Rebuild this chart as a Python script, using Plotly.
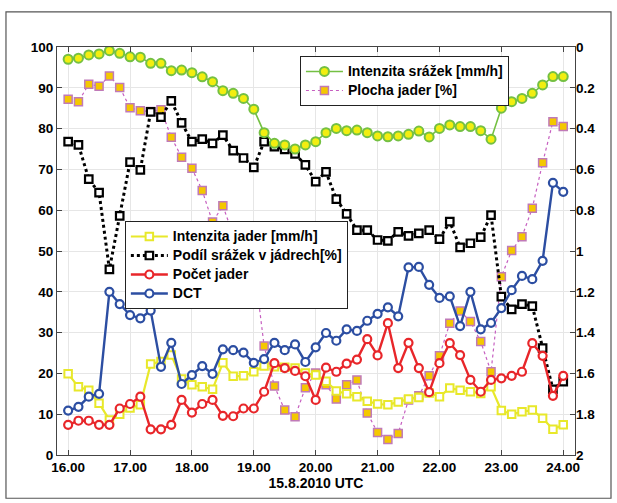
import plotly.graph_objects as go

times = ["16:00","16:10","16:20","16:30","16:40","16:50",
         "17:00","17:10","17:20","17:30","17:40","17:50",
         "18:00","18:10","18:20","18:30","18:40","18:50",
         "19:00","19:10","19:20","19:30","19:40","19:50",
         "20:00","20:10","20:20","20:30","20:40","20:50",
         "21:00","21:10","21:20","21:30","21:40","21:50",
         "22:00","22:10","22:20","22:30","22:40","22:50",
         "23:00","23:10","23:20","23:30","23:40","23:50","24:00"]

# right axis (reversed): Intenzita srážek [mm/h]
intenzita_srazek = [0.060,0.055,0.039,0.034,0.018,0.031,0.048,0.050,0.080,0.080,0.116,0.113,
                    0.126,0.146,0.170,0.214,0.227,0.252,0.305,0.420,0.472,0.480,0.500,0.480,
                    0.464,0.420,0.399,0.410,0.407,0.420,0.436,0.440,0.436,0.428,0.412,0.441,
                    0.399,0.382,0.390,0.390,0.410,0.452,0.300,0.268,0.252,0.227,0.186,0.145,0.145]

plocha_jader = [87.2,86.6,90.9,90.4,92.9,90.1,85.1,84.4,84.2,84.6,77.9,73.0,
                70.3,64.8,57.1,61.1,53.9,52.7,47.3,26.7,16.9,11.0,9.4,16.5,
                20.1,17.2,13.7,17.2,18.4,10.3,5.5,3.8,5.3,13.5,14.5,19.4,
                24.3,32.3,35.3,32.7,27.8,20.4,43.7,50.1,53.5,60.5,71.6,81.7,80.5]

podil_srazek = [76.8,76.0,67.6,64.3,45.5,58.6,71.8,69.9,84.1,82.8,86.8,81.4,
                76.8,77.4,76.4,78.4,74.6,72.8,70.5,76.8,75.6,74.9,73.8,71.1,
                67.0,69.4,62.7,59.1,55.1,55.1,52.7,52.5,54.7,53.7,54.3,55.1,
                52.9,57.2,50.9,51.9,53.4,58.8,38.8,35.7,37.0,36.5,26.2,16.1,18.0]

dct = [10.9,11.8,14.3,15.0,40.0,37.0,34.3,33.5,35.4,21.6,27.5,17.4,
       19.6,21.8,19.9,25.9,25.7,25.1,22.6,23.5,27.5,25.7,27.1,22.8,
       26.4,29.9,28.0,30.8,30.4,32.9,34.6,36.2,34.0,46.0,46.1,41.7,
       38.5,38.9,31.6,40.0,30.8,32.4,36.0,40.4,43.9,43.1,47.6,66.7,64.5]

pocet_jader = [7.4,8.4,8.4,7.4,7.4,11.4,12.5,14.3,6.3,6.3,7.4,13.5,
               10.4,12.5,13.5,9.6,9.5,11.4,11.4,15.5,22.5,21.3,20.6,19.3,
               13.5,21.4,20.4,22.4,23.4,28.4,24.4,32.3,21.3,27.5,21.3,15.4,
               22.5,27.4,24.5,18.4,15.5,18.4,18.8,19.4,20.4,27.4,24.3,14.5,19.4]

intenzita_jader = [19.9,16.7,15.9,12.7,8.6,10.0,11.5,12.3,22.3,22.9,24.5,18.6,
                   17.2,16.7,16.1,22.6,19.3,19.4,20.4,21.8,21.6,21.5,21.3,20.1,
                   19.6,18.1,15.7,15.0,14.3,13.2,12.5,12.3,13.0,13.7,14.1,15.2,
                   14.3,16.4,15.9,15.5,15.1,16.7,10.9,10.0,10.6,11.0,9.0,6.3,7.4]

left_ticks = [0, 10, 20, 30, 40, 50, 60, 70, 80, 90, 100]
right_ticks = [0, 0.2, 0.4, 0.6, 0.8, 1, 1.2, 1.4, 1.6, 1.8, 2]
right_text = ["0", "0.2", "0.4", "0.6", "0.8", "1", "1.2", "1.4", "1.6", "1.8", "2"]
x_ticks = [16, 17, 18, 19, 20, 21, 22, 23, 24]
x_text = ["16.00", "17.00", "18.00", "19.00", "20.00", "21.00", "22.00", "23.00", "24.00"]


def to_hours(t):
    h, m = t.split(":")
    return int(h) + int(m) / 60.0


x = [to_hours(t) for t in times]

FONT = "Liberation Sans, Arial, sans-serif"


def lname(s):
    return '<span style="font-size:14px"><b>%s</b></span>' % s


fig = go.Figure()

fig.add_trace(go.Scatter(
    x=x, y=plocha_jader, name=lname("Plocha jader [%]"), mode="lines+markers",
    line=dict(color="#c65fc0", width=1.2, dash="dot"),
    marker=dict(symbol="square", size=8, color="#f4c800", line=dict(color="#c07ab8", width=1.5)),
    legend="legend", legendrank=2))

fig.add_trace(go.Scatter(
    x=x, y=intenzita_jader, name=lname("Intenzita jader [mm/h]"), mode="lines+markers",
    line=dict(color="#e8e82a", width=2.2),
    marker=dict(symbol="square", size=7.5, color="white", line=dict(color="#e8e82a", width=2)),
    legend="legend2", legendrank=1))

fig.add_trace(go.Scatter(
    x=x, y=podil_srazek, name=lname("Podíl srážek v jádrech[%]"), mode="lines+markers",
    line=dict(color="black", width=3, dash="dot"),
    marker=dict(symbol="square", size=7.5, color="white", line=dict(color="black", width=2.2)),
    legend="legend2", legendrank=2))

fig.add_trace(go.Scatter(
    x=x, y=pocet_jader, name=lname("Počet jader"), mode="lines+markers",
    line=dict(color="#e8262a", width=2.4),
    marker=dict(symbol="circle", size=8, color="white", line=dict(color="#e8262a", width=2.2)),
    legend="legend2", legendrank=3))

fig.add_trace(go.Scatter(
    x=x, y=dct, name=lname("DCT"), mode="lines+markers",
    line=dict(color="#2c4ea2", width=2.4),
    marker=dict(symbol="circle", size=8, color="white", line=dict(color="#2c4ea2", width=2.2)),
    legend="legend2", legendrank=4))

fig.add_trace(go.Scatter(
    x=x, y=intenzita_srazek, name=lname("Intenzita srážek [mm/h]"), mode="lines+markers",
    yaxis="y2",
    line=dict(color="#74c043", width=1.6),
    marker=dict(symbol="circle", size=9, color="#f2ee10", line=dict(color="#74c043", width=2)),
    legend="legend", legendrank=1))

axis_font = dict(family=FONT, size=13.5, color="black")

fig.update_layout(
    width=617, height=503,
    margin=dict(l=57, r=42, t=47, b=48),
    paper_bgcolor="white", plot_bgcolor="white",
    font=dict(family=FONT, size=12, color="black"),
    xaxis=dict(
        range=[15.82, 24.19], tickvals=x_ticks, ticktext=["<b>%s</b>" % t for t in x_text],
        ticks="inside", ticklen=5, tickcolor="#444", showline=True, linecolor="#444", linewidth=1,
        mirror="ticks", showgrid=True, gridcolor="#e6e6e6", gridwidth=1, zeroline=False,
        tickfont=axis_font,
        title=dict(text="<b>15.8.2010 UTC</b>", font=dict(family=FONT, size=14, color="black"),
                   standoff=1)),
    yaxis=dict(
        range=[0, 100], tickvals=left_ticks, ticktext=["<b>%d</b>" % v for v in left_ticks],
        ticks="inside", ticklen=5, tickcolor="#444", showline=True, linecolor="#444", linewidth=1,
        mirror=True, showgrid=True, gridcolor="#e6e6e6", gridwidth=1, zeroline=False,
        tickfont=axis_font),
    yaxis2=dict(
        range=[2, 0], overlaying="y", side="right", tickvals=right_ticks,
        ticktext=["<b>%s</b>" % t for t in right_text],
        ticks="inside", ticklen=5, tickcolor="#444", showline=False, showgrid=False, zeroline=False,
        tickfont=axis_font),
    legend=dict(
        x=0.469, y=0.978, xanchor="left", yanchor="top",
        bgcolor="white", bordercolor="#222", borderwidth=1,
        font=dict(family=FONT, size=12, color="black"), tracegroupgap=0,
        itemwidth=37),
    legend2=dict(
        x=0.131, y=0.5735, xanchor="left", yanchor="top",
        bgcolor="white", bordercolor="#222", borderwidth=1,
        font=dict(family=FONT, size=12, color="black"), tracegroupgap=0,
        itemwidth=37),
    shapes=[dict(type="rect", xref="paper", yref="paper",
                 x0=-0.0985, x1=1.0695, y0=-0.106, y1=1.086,
                 line=dict(color="#555", width=1.2), fillcolor="rgba(0,0,0,0)", layer="below")],
)

fig.write_html("out.html")
